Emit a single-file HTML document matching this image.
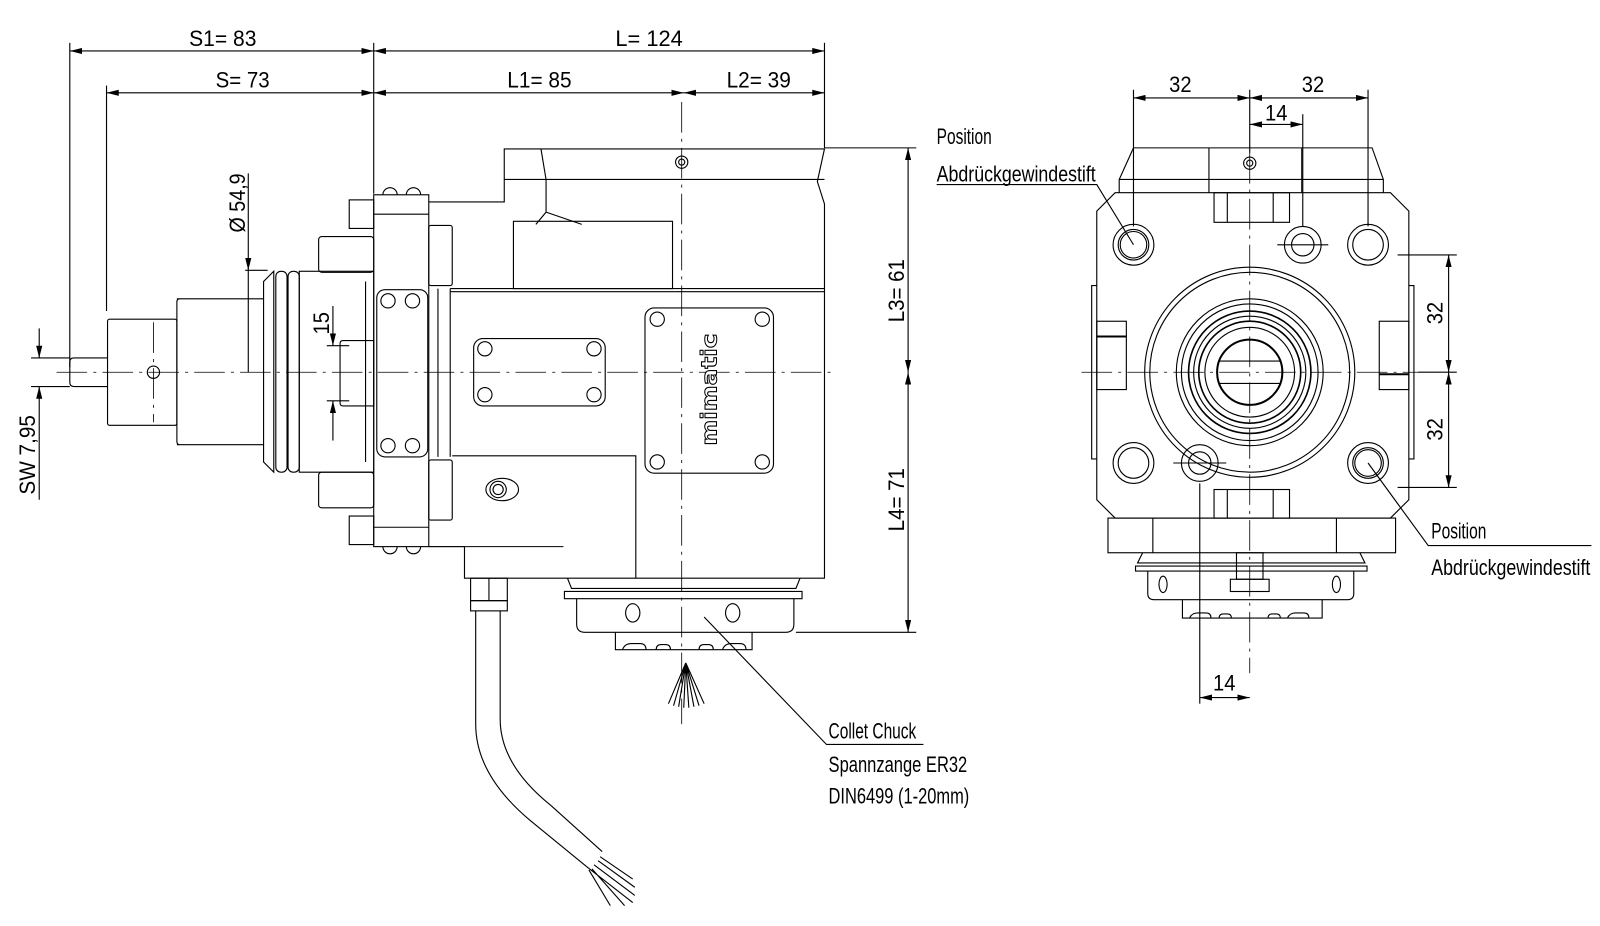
<!DOCTYPE html>
<html><head><meta charset="utf-8"><style>
html,body{margin:0;padding:0;background:#fff;}
svg{display:block;}
text{font-family:"Liberation Sans",sans-serif;font-size:22px;fill:#000;}
</style></head><body>
<svg width="1600" height="926" viewBox="0 0 1568 908" xmlns="http://www.w3.org/2000/svg">
<defs>
<marker id="a" viewBox="0 0 12 6" refX="12" refY="3" markerWidth="12" markerHeight="6" orient="auto-start-reverse" markerUnits="userSpaceOnUse"><path d="M0,0 L12,3 L0,6 z" fill="#000"/></marker>
</defs>
<g fill="none" stroke="#000" stroke-width="1.1">
<line x1="68" y1="42" x2="68" y2="360"/>
<line x1="104" y1="84" x2="104" y2="305"/>
<line x1="366" y1="42" x2="366" y2="190"/>
<line x1="808" y1="42" x2="808" y2="145"/>
<line x1="68" y1="50" x2="366" y2="50" marker-start="url(#a)" marker-end="url(#a)"/>
<line x1="366" y1="50" x2="808" y2="50" marker-start="url(#a)" marker-end="url(#a)"/>
<line x1="104" y1="91" x2="366" y2="91" marker-start="url(#a)" marker-end="url(#a)"/>
<line x1="366" y1="91" x2="670" y2="91" marker-start="url(#a)" marker-end="url(#a)"/>
<line x1="670" y1="91" x2="808" y2="91" marker-start="url(#a)" marker-end="url(#a)"/>
<line x1="808" y1="145" x2="898" y2="145"/>
<line x1="780" y1="620" x2="898" y2="620"/>
<line x1="890" y1="145" x2="890" y2="365" marker-start="url(#a)" marker-end="url(#a)"/>
<line x1="890" y1="365" x2="890" y2="620" marker-start="url(#a)" marker-end="url(#a)"/>
<line x1="240" y1="265" x2="262" y2="265"/>
<line x1="243" y1="170" x2="243" y2="265" marker-end="url(#a)"/>
<line x1="243" y1="265" x2="243" y2="365"/>
<line x1="320" y1="339" x2="342" y2="339"/>
<line x1="320" y1="393" x2="342" y2="393"/>
<line x1="326" y1="300" x2="326" y2="339" marker-end="url(#a)"/>
<line x1="326" y1="432" x2="326" y2="393" marker-end="url(#a)"/>
<line x1="30" y1="351" x2="68" y2="351"/>
<line x1="30" y1="379" x2="68" y2="379"/>
<line x1="38" y1="322" x2="38" y2="351" marker-end="url(#a)"/>
<line x1="38" y1="490" x2="38" y2="379" marker-end="url(#a)"/>
<line x1="55" y1="365" x2="815" y2="365" stroke-dasharray="30 6 3 6" stroke-width="0.8"/>
<line x1="668" y1="100" x2="668" y2="710" stroke-dasharray="30 6 3 6" stroke-width="0.8"/>
<line x1="150" y1="316" x2="150" y2="414" stroke-dasharray="30 6 3 6" stroke-width="0.8"/>
<path d="M105,351 H72 Q68,351 68,355 V375 Q68,379 72,379 H105"/>
<rect x="105" y="313" width="68" height="104" rx="2"/>
<circle cx="150" cy="365" r="6"/>
<path d="M173,293 H258 M173,436 H258 M176,293 Q173,293 173,296 V433 Q173,436 176,436"/>
<path d="M258,293 V276 L268,266 V463 L258,453 V293"/>
<rect x="270" y="266" width="11" height="197" rx="5"/>
<rect x="282" y="266" width="11" height="197" rx="5"/>
<rect x="293" y="266" width="73" height="197"/>
<line x1="358" y1="276" x2="358" y2="453"/>
<path d="M336,334 H366 V398 H336 Q333,398 333,395 V337 Q333,334 336,334"/>
<rect x="312" y="232" width="54" height="35" rx="3"/>
<rect x="312" y="463" width="54" height="35" rx="3"/>
<rect x="342" y="196" width="24" height="28"/>
<rect x="342" y="506" width="24" height="28"/>
<rect x="366" y="191" width="54" height="345"/>
<line x1="366" y1="210" x2="420" y2="210"/>
<line x1="366" y1="517" x2="420" y2="517"/>
<path d="M375,191 a7,7 0 0 1 14,0 M398,191 a7,7 0 0 1 14,0 M375,536 a7,7 0 0 0 14,0 M398,536 a7,7 0 0 0 14,0"/>
<rect x="369" y="284" width="50" height="164" rx="8"/>
<circle cx="380" cy="295" r="7"/><circle cx="404" cy="295" r="7"/>
<circle cx="380" cy="437" r="7"/><circle cx="404" cy="437" r="7"/>
<rect x="420" y="221" width="23" height="59" rx="2"/>
<rect x="420" y="451" width="23" height="59" rx="2"/>
<line x1="429" y1="283" x2="429" y2="448"/>
<line x1="441" y1="283" x2="441" y2="448"/>
<path d="M420,198 H494 V146 H808 L801,178 L808,200 V283 H441"/>
<line x1="494" y1="176" x2="808" y2="176"/>
<path d="M530,146 L535,176 V208 L525,220 M535,208 L570,220"/>
<rect x="503" y="217" width="156" height="66"/>
<circle cx="668" cy="159" r="6"/><circle cx="668" cy="159" r="3"/>
<line x1="441" y1="286" x2="808" y2="286"/>
<path d="M808,283 V567 H455 V536 H420"/>
<line x1="420" y1="536" x2="552" y2="536"/>
<path d="M443,447 H623 V567"/>
<rect x="464" y="332" width="129" height="66" rx="9"/>
<circle cx="475" cy="342" r="7"/><circle cx="582" cy="342" r="7"/>
<circle cx="475" cy="387" r="7"/><circle cx="582" cy="387" r="7"/>
<rect x="632" y="302" width="126" height="162" rx="9"/>
<circle cx="644" cy="313" r="7"/><circle cx="747" cy="313" r="7"/>
<circle cx="644" cy="453" r="7"/><circle cx="747" cy="453" r="7"/>
<ellipse cx="492" cy="480" rx="16" ry="11"/><circle cx="488" cy="480" r="8"/><circle cx="488" cy="480" r="5"/>
<rect x="461" y="567" width="36" height="22"/>
<line x1="479" y1="567" x2="479" y2="589"/>
<rect x="461" y="589" width="36" height="10"/>
<path d="M466,599 V710 Q466,760 520,805 L575,850"/>
<path d="M490,599 V705 Q490,750 540,790 L590,835"/>
<path d="M575,850 L620,885 M582,848 L622,878 M586,844 L622,870 M588,840 L620,862 M580,852 L612,888 M577,853 L598,888"/>
<path d="M556,567 L560,577 H780 L784,567 M553,580 H786 V587 H553 Z"/>
<path d="M565,587 V612 Q565,620 573,620 H770 Q778,620 778,612 V587"/>
<ellipse cx="620" cy="601" rx="7" ry="9"/><ellipse cx="718" cy="601" rx="7" ry="9"/>
<path d="M603,620 V637 H737 V620"/>
<path d="M610,637 q2,-6 9,-6 h8 q6,0 6,6 M643,637 q0,-5 5,-5 h4 q5,0 5,5 M685,637 q0,-5 5,-5 h4 q5,0 5,5 M708,637 q2,-6 9,-6 h8 q6,0 6,6"/>
<path d="M672,650 L655,690 M672,650 L660,692 M672,650 L665,693 M672,650 L670,694 M672,650 L675,694 M672,650 L680,693 M672,650 L685,692 M672,650 L690,690"/>
<path d="M690,605 L810,730 H905"/>
<line x1="1060" y1="365" x2="1390" y2="365" stroke-dasharray="30 6 3 6" stroke-width="0.8"/>
<line x1="1225" y1="150" x2="1225" y2="660" stroke-dasharray="30 6 3 6" stroke-width="0.8"/>
<line x1="1111" y1="88" x2="1111" y2="222"/>
<line x1="1341" y1="88" x2="1341" y2="222"/>
<line x1="1225" y1="88" x2="1225" y2="150"/>
<line x1="1277" y1="112" x2="1277" y2="222"/>
<line x1="1111" y1="96" x2="1225" y2="96" marker-start="url(#a)" marker-end="url(#a)"/>
<line x1="1225" y1="96" x2="1341" y2="96" marker-start="url(#a)" marker-end="url(#a)"/>
<line x1="1225" y1="122" x2="1277" y2="122" marker-start="url(#a)" marker-end="url(#a)"/>
<line x1="1370" y1="250" x2="1428" y2="250"/>
<line x1="1370" y1="478" x2="1428" y2="478"/>
<line x1="1390" y1="365" x2="1428" y2="365"/>
<line x1="1420" y1="250" x2="1420" y2="365" marker-start="url(#a)" marker-end="url(#a)"/>
<line x1="1420" y1="365" x2="1420" y2="478" marker-start="url(#a)" marker-end="url(#a)"/>
<line x1="1176" y1="474" x2="1176" y2="690"/>
<line x1="1176" y1="684" x2="1225" y2="684" marker-start="url(#a)" marker-end="url(#a)"/>
<path d="M1111,145 H1345 L1356,176 V189 M1111,145 L1097,176 V189 M1097,176 H1356"/>
<line x1="1185" y1="145" x2="1185" y2="189"/><line x1="1276" y1="145" x2="1276" y2="189"/>
<circle cx="1225" cy="160" r="6"/><circle cx="1225" cy="160" r="3"/>
<path d="M1093,189 H1363 L1381,207 V490 L1363,508 H1093 L1075,490 V207 Z"/>
<rect x="1190" y="189" width="74" height="29"/><line x1="1203" y1="189" x2="1203" y2="218"/><line x1="1248" y1="189" x2="1248" y2="218"/>
<rect x="1190" y="480" width="74" height="28"/><line x1="1203" y1="480" x2="1203" y2="508"/><line x1="1248" y1="480" x2="1248" y2="508"/>
<rect x="1075" y="315" width="29" height="67"/><line x1="1075" y1="330" x2="1104" y2="330" stroke-width="2"/>
<rect x="1352" y="315" width="29" height="67"/><line x1="1352" y1="367" x2="1381" y2="367" stroke-width="2"/>
<path d="M1075,280 h-5 v170 h5 M1381,280 h5 v170 h-5"/>
<circle cx="1111" cy="240" r="20"/><circle cx="1111" cy="240" r="15"/><circle cx="1111" cy="240" r="13"/>
<circle cx="1341" cy="240" r="20"/><circle cx="1341" cy="240" r="15"/>
<circle cx="1111" cy="454" r="20"/><circle cx="1111" cy="454" r="15"/>
<circle cx="1341" cy="454" r="20"/><circle cx="1341" cy="454" r="15"/><circle cx="1341" cy="454" r="13"/>
<circle cx="1277" cy="240" r="18"/><circle cx="1277" cy="240" r="11"/>
<line x1="1252" y1="240" x2="1302" y2="240"/>
<circle cx="1176" cy="454" r="18"/><circle cx="1176" cy="454" r="11"/>
<line x1="1150" y1="454" x2="1202" y2="454"/>
<circle cx="1225" cy="365" r="103"/><circle cx="1225" cy="365" r="98"/>
<circle cx="1225" cy="365" r="72"/><circle cx="1225" cy="365" r="67"/>
<circle cx="1225" cy="365" r="60" stroke-width="1.6"/><circle cx="1225" cy="365" r="55"/>
<circle cx="1225" cy="365" r="50" stroke-width="1.6"/><circle cx="1225" cy="365" r="44"/>
<circle cx="1225" cy="365" r="32" stroke-width="2"/>
<line x1="1195" y1="354" x2="1255" y2="354"/><line x1="1195" y1="376" x2="1255" y2="376"/>
<rect x="1086" y="508" width="282" height="34"/>
<line x1="1130" y1="508" x2="1130" y2="542"/><line x1="1310" y1="508" x2="1310" y2="542"/>
<path d="M1120,542 L1115,552 H1338 L1333,542 M1113,555 H1340 V560 H1113 Z"/>
<path d="M1125,560 V582 Q1125,588 1131,588 H1321 Q1327,588 1327,582 V560"/>
<ellipse cx="1140" cy="573" rx="4" ry="8"/><ellipse cx="1310" cy="573" rx="4" ry="8"/>
<rect x="1212" y="542" width="26" height="26"/><rect x="1206" y="568" width="38" height="12"/>
<path d="M1159,588 V606 H1296 V588"/>
<path d="M1166,606 q2,-5 8,-5 h8 q5,0 5,5 M1195,606 q0,-4 4,-4 h4 q4,0 4,4 M1243,606 q0,-4 4,-4 h4 q4,0 4,4 M1262,606 q2,-5 8,-5 h8 q5,0 5,5"/>
<path d="M918,181 H1075 L1111,240"/>
<path d="M1341,454 L1400,535 H1560"/>
</g>
<g>
<text x="185" y="45" textLength="66" lengthAdjust="spacingAndGlyphs">S1= 83</text>
<text x="211" y="86" textLength="53" lengthAdjust="spacingAndGlyphs">S= 73</text>
<text x="603" y="45" textLength="66" lengthAdjust="spacingAndGlyphs">L= 124</text>
<text x="497" y="86" textLength="63" lengthAdjust="spacingAndGlyphs">L1= 85</text>
<text x="712" y="86" textLength="63" lengthAdjust="spacingAndGlyphs">L2= 39</text>
<text transform="translate(886,316) rotate(-90)" textLength="62" lengthAdjust="spacingAndGlyphs">L3= 61</text>
<text transform="translate(886,521) rotate(-90)" textLength="62" lengthAdjust="spacingAndGlyphs">L4= 71</text>
<text transform="translate(240,228) rotate(-90)" textLength="58" lengthAdjust="spacingAndGlyphs">Ø 54,9</text>
<text transform="translate(322,328) rotate(-90)" textLength="22" lengthAdjust="spacingAndGlyphs">15</text>
<text transform="translate(34,485) rotate(-90)" textLength="78" lengthAdjust="spacingAndGlyphs">SW 7,95</text>
<text transform="translate(702,437) rotate(-90)" style="font-family:'DejaVu Sans',sans-serif;font-size:21px;font-weight:bold;fill:#fff;stroke:#000;stroke-width:1" textLength="110" lengthAdjust="spacingAndGlyphs">mimatic</text>
<text x="812" y="724" textLength="86" lengthAdjust="spacingAndGlyphs">Collet Chuck</text>
<text x="812" y="757" textLength="136" lengthAdjust="spacingAndGlyphs">Spannzange ER32</text>
<text x="812" y="788" textLength="138" lengthAdjust="spacingAndGlyphs">DIN6499 (1-20mm)</text>
<text x="1146" y="90" textLength="22" lengthAdjust="spacingAndGlyphs">32</text>
<text x="1276" y="90" textLength="22" lengthAdjust="spacingAndGlyphs">32</text>
<text x="1240" y="118" textLength="22" lengthAdjust="spacingAndGlyphs">14</text>
<text x="1189" y="677" textLength="22" lengthAdjust="spacingAndGlyphs">14</text>
<text transform="translate(1414,318) rotate(-90)" textLength="22" lengthAdjust="spacingAndGlyphs">32</text>
<text transform="translate(1414,432) rotate(-90)" textLength="22" lengthAdjust="spacingAndGlyphs">32</text>
<text x="918" y="141" textLength="54" lengthAdjust="spacingAndGlyphs">Position</text>
<text x="918" y="178" textLength="156" lengthAdjust="spacingAndGlyphs">Abdrückgewindestift</text>
<text x="1403" y="528" textLength="54" lengthAdjust="spacingAndGlyphs">Position</text>
<text x="1403" y="564" textLength="156" lengthAdjust="spacingAndGlyphs">Abdrückgewindestift</text>
</g>
</svg>
</body></html>
